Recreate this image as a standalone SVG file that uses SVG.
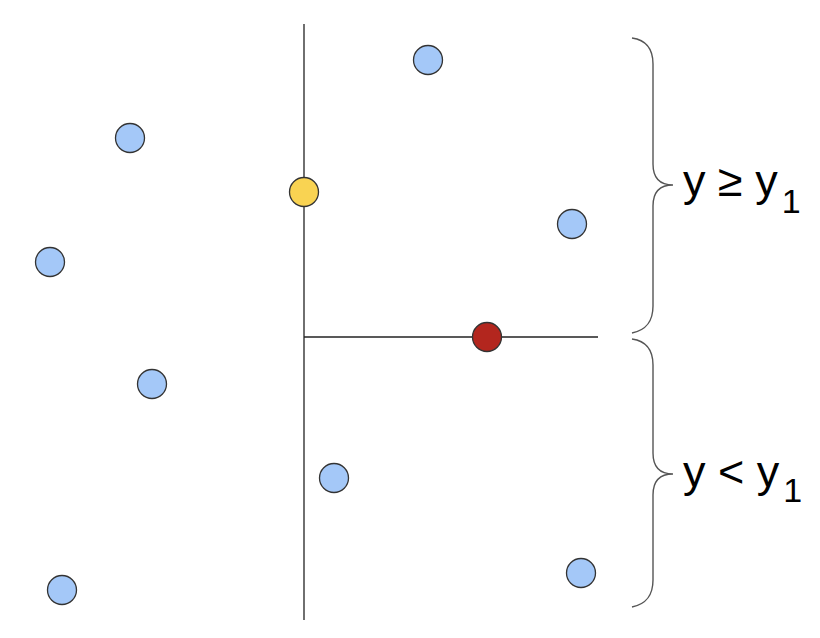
<svg xmlns="http://www.w3.org/2000/svg" width="820" height="638" viewBox="0 0 820 638">
<style>
.ln{stroke:#222;stroke-width:1.3;fill:none}
.br{stroke:#555;stroke-width:1.4;fill:none}
.pt{stroke:#333;stroke-width:1.3}
.blue{fill:#a4c8f8}
.yel{fill:#f9d352}
.red{fill:#b3261e}
.lbl{font-family:"Liberation Sans",Arial,sans-serif;font-size:45px;fill:#000}
.sub{font-size:34px}
</style>
<rect width="820" height="638" fill="#fff"/>
<g id="connectors">
<line class="ln" x1="304" y1="24" x2="304" y2="620"/>
<line class="ln" x1="304" y1="337" x2="598" y2="337"/>
</g>
<g id="brace-top">
<path class="br" d="M632,38 C646,40 653,48 653,64 L653,164 C653,178 660,185 673,185 C660,185 653,192 653,206 L653,306 C653,322 646,330 632,333"/>
<text class="lbl" x="683" y="196">y ≥ y<tspan class="sub" dx="4" dy="17">1</tspan></text>
</g>
<g id="brace-bottom">
<path class="br" d="M632,339 C646,341 653,349 653,365 L653,453 C653,467 660,474 673,474 C660,474 653,481 653,495 L653,580 C653,596 646,604 632,607"/>
<text class="lbl" x="683" y="487">y &lt; y<tspan class="sub" dx="4" dy="15">1</tspan></text>
</g>
<g id="p1"><circle class="pt blue" cx="130" cy="138" r="14.5"/></g>
<g id="p2"><circle class="pt blue" cx="428" cy="60" r="14.5"/></g>
<g id="p3"><circle class="pt blue" cx="572" cy="224" r="14.5"/></g>
<g id="p4"><circle class="pt blue" cx="50" cy="262" r="14.5"/></g>
<g id="p5"><circle class="pt blue" cx="152" cy="384" r="14.5"/></g>
<g id="p6"><circle class="pt blue" cx="334" cy="478" r="14.5"/></g>
<g id="p7"><circle class="pt blue" cx="581" cy="573" r="14.5"/></g>
<g id="p8"><circle class="pt blue" cx="62" cy="590" r="14.5"/></g>
<g id="yellow"><circle class="pt yel" cx="304" cy="192" r="14.5"/></g>
<g id="red"><circle class="pt red" cx="487" cy="337" r="14.5"/></g>
</svg>
